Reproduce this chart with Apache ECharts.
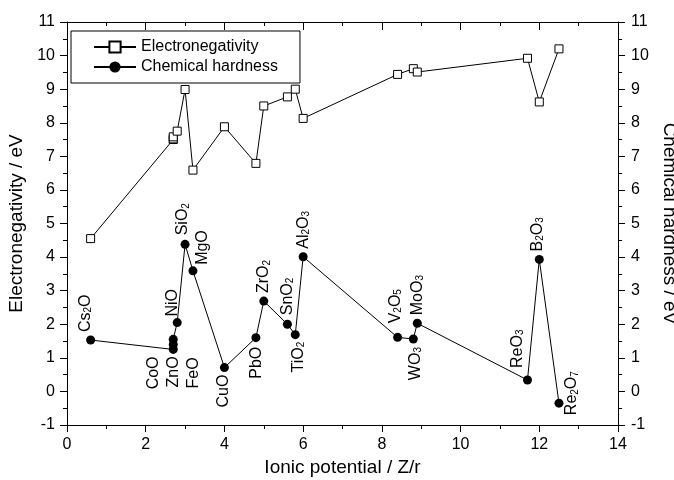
<!DOCTYPE html>
<html>
<head>
<meta charset="utf-8">
<script src="https://cdn.jsdelivr.net/npm/echarts@6/dist/echarts.min.js"></script>
<style>html,body{margin:0;padding:0;background:#fff}#c{width:674px;height:480px}</style>
</head>
<body>
<div id="c"></div>
<script>
// Compounds (rich-text label markup), ionic potential Z/r, electronegativity (eV), chemical hardness (eV)
const compounds = ['{n|Cs}{s|2}{n|O}', '{n|CoO}', '{n|ZnO}', '{n|FeO}', '{n|NiO}', '{n|SiO}{s|2}', '{n|MgO}', '{n|CuO}', '{n|PbO}', '{n|ZrO}{s|2}', '{n|SnO}{s|2}', '{n|TiO}{s|2}', '{n|Al}{s|2}{n|O}{s|3}', '{n|V}{s|2}{n|O}{s|5}', '{n|WO}{s|3}', '{n|MoO}{s|3}', '{n|ReO}{s|3}', '{n|B}{s|2}{n|O}{s|3}', '{n|Re}{s|2}{n|O}{s|7}'];
const ionicPotential = [0.6, 2.7, 2.7, 2.7, 2.8, 3.0, 3.2, 4.0, 4.8, 5.0, 5.6, 5.8, 6.0, 8.4, 8.8, 8.9, 11.7, 12.0, 12.5];
const electronegativity = [4.55, 7.50, 7.52, 7.58, 7.75, 8.99, 6.59, 7.88, 6.79, 8.50, 8.77, 9.00, 8.13, 9.44, 9.61, 9.51, 9.92, 8.62, 10.20];
const hardness = [1.53, 1.25, 1.40, 1.55, 2.05, 4.38, 3.59, 0.71, 1.60, 2.69, 2.00, 1.69, 4.01, 1.61, 1.56, 2.03, 0.34, 3.93, -0.35];
const xTicks = [0, 2, 4, 6, 8, 10, 12, 14];
const yTicks = [-1, 0, 1, 2, 3, 4, 5, 6, 7, 8, 9, 10, 11];
// label placement: side ('up' = above point, 'down' = below), sideways shift, distance from point
const labelSide = ['up','down','down','down','up','up','up','down','down','up','up','down','up','up','down','up','up','up','up'];
const labelShift = [-5, -20, 0, 20, -5, -2, 10, -1, 1, 0, 0, 3, 0, -2, 2, 0, -10, -2, 13];
const labelGap = [8, 7, 12, 18, 6, 9, 6, 7, 9, 8, 9, 7, 8, 14, 8, 8, 12, 8, -12];

const FONT = 'Liberation Sans, Arial, sans-serif';
const chart = echarts.init(document.getElementById('c'), null, {renderer: 'canvas'});
const enData = ionicPotential.map((x, i) => [x, electronegativity[i]]);
const hdData = ionicPotential.map((x, i) => [x, hardness[i]]);

const axisCommon = {
  axisLine: {show: true, onZero: false, lineStyle: {color: '#000', width: 1}},
  splitLine: {show: false},
  minorSplitLine: {show: false}
};

chart.setOption({
  animation: false,
  backgroundColor: '#fff',
  textStyle: {fontFamily: FONT},
  grid: {left: 67, right: 56, top: 22, bottom: 55, containLabel: false, outerBoundsMode: 'none'},
  legend: {
    left: 71, top: 31, orient: 'vertical',
    borderColor: '#000', borderWidth: 1, borderRadius: 0,
    padding: [8, 22, 8, 22],
    itemWidth: 42, itemHeight: 14, itemGap: 4,
    textStyle: {fontSize: 16, color: '#000', fontFamily: FONT},
    data: ['Electronegativity', 'Chemical hardness']
  },
  xAxis: [
    Object.assign({}, axisCommon, {
      type: 'value', min: xTicks[0], max: xTicks[xTicks.length-1], interval: 2, position: 'bottom',
      axisTick: {show: true, inside: false, length: 7, lineStyle: {color: '#000'}},
      minorTick: {show: true, splitNumber: 2, length: 4, lineStyle: {color: '#000'}},
      axisLabel: {fontSize: 16, color: '#000', margin: 12, fontFamily: FONT},
      name: 'Ionic potential / Z/r', nameLocation: 'middle', nameGap: 33,
      nameTextStyle: {fontSize: 19, color: '#000', fontFamily: FONT}
    }),
    Object.assign({}, axisCommon, {
      type: 'value', min: xTicks[0], max: xTicks[xTicks.length-1], interval: 2, position: 'top',
      axisTick: {show: true, inside: true, length: 8, lineStyle: {color: '#000'}},
      minorTick: {show: true, splitNumber: 2, length: 4, lineStyle: {color: '#000'}},
      axisLabel: {show: false}
    })
  ],
  yAxis: [
    Object.assign({}, axisCommon, {
      type: 'value', min: yTicks[0], max: yTicks[yTicks.length-1], interval: 1, position: 'left',
      axisTick: {show: true, inside: false, length: 7, lineStyle: {color: '#000'}},
      minorTick: {show: true, splitNumber: 2, length: 4, lineStyle: {color: '#000'}},
      axisLabel: {fontSize: 16, color: '#000', margin: 12, fontFamily: FONT},
      name: 'Electronegativity / eV', nameLocation: 'middle', nameGap: 36, nameRotate: 90,
      nameTextStyle: {fontSize: 19, color: '#000', fontFamily: FONT}
    }),
    Object.assign({}, axisCommon, {
      type: 'value', min: yTicks[0], max: yTicks[yTicks.length-1], interval: 1, position: 'right',
      axisTick: {show: true, inside: false, length: 7, lineStyle: {color: '#000'}},
      minorTick: {show: true, splitNumber: 2, length: 4, lineStyle: {color: '#000'}},
      axisLabel: {fontSize: 16, color: '#000', margin: 13, fontFamily: FONT},
      name: 'Chemical hardness / eV', nameLocation: 'middle', nameGap: 33, nameRotate: -90,
      nameTextStyle: {fontSize: 19, color: '#000', fontFamily: FONT}
    })
  ],
  series: [
    {
      name: 'Electronegativity', type: 'line', xAxisIndex: 0, yAxisIndex: 0,
      data: enData, symbol: 'rect', symbolSize: 8, showAllSymbol: true,
      lineStyle: {color: '#000', width: 1},
      itemStyle: {color: '#fff', borderColor: '#000', borderWidth: 1},
      emphasis: {disabled: true}, z: 3
    },
    {
      name: 'Chemical hardness', type: 'line', xAxisIndex: 0, yAxisIndex: 1,
      data: hdData, symbol: 'circle', symbolSize: 9, showAllSymbol: true,
      lineStyle: {color: '#000', width: 1},
      itemStyle: {color: '#000', borderColor: '#000', borderWidth: 0},
      emphasis: {disabled: true}, z: 3
    }
  ]
});

const rich = {
  n: {fontSize: 16, lineHeight: 16, verticalAlign: 'top', fontFamily: FONT, fill: '#000'},
  s: {fontSize: 10, lineHeight: 10, padding: [11, 0, 0, 0], verticalAlign: 'bottom', fontFamily: FONT, fill: '#000'}
};
const graphics = hdData.map((d, i) => {
  const p = chart.convertToPixel({xAxisIndex: 0, yAxisIndex: 1}, d);
  const up = labelSide[i] === 'up';
  return {
    type: 'text', silent: true, z: 10,
    x: p[0] + labelShift[i] - 8,
    y: up ? p[1] - labelGap[i] : p[1] + labelGap[i],
    rotation: Math.PI / 2,
    style: {
      text: compounds[i], rich: rich, fill: '#000',
      fontSize: 16, fontFamily: FONT,
      align: up ? 'left' : 'right', verticalAlign: 'top'
    }
  };
});
chart.setOption({graphic: graphics});
</script>
</body>
</html>
